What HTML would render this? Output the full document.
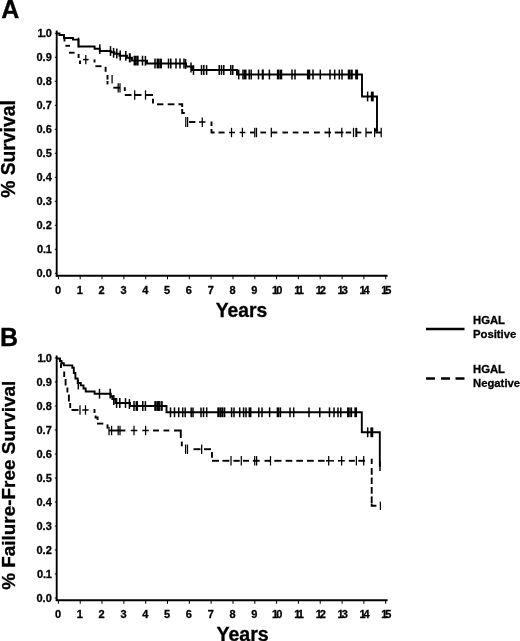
<!DOCTYPE html>
<html lang="en"><head><meta charset="utf-8"><title>HGAL survival curves</title>
<style>
html,body{margin:0;padding:0;background:#fff}
svg{display:block}
path{stroke:#000;fill:none}
text{stroke:#000;stroke-width:0.3px;font-family:"Liberation Sans",Arial,Helvetica,sans-serif;font-weight:bold;fill:#000}
.tl{font-size:11px}
.t2{letter-spacing:-2px}
.big{font-size:19.2px}
.pl{font-size:25px}
.lg{font-size:11.3px}
</style></head><body>
<svg width="520" height="641" viewBox="0 0 520 641">
<rect width="520" height="641" fill="#fff"/>
<g>
</g>
<g>
<path d="M56.7 30.5V276.5" stroke-width="1.9"/>
<path d="M55.8 275.7H387.6" stroke-width="2"/>
<path d="M54.8 273.3H56.6" stroke-width="1"/>
<text x="51.8" y="277.2" text-anchor="end" class="tl">0.0</text>
<path d="M54.8 249.3H56.6" stroke-width="1"/>
<text x="51.8" y="253.2" text-anchor="end" class="tl">0.<tspan dx="-0.5">1</tspan></text>
<path d="M54.8 225.3H56.6" stroke-width="1"/>
<text x="51.8" y="229.2" text-anchor="end" class="tl">0.2</text>
<path d="M54.8 201.3H56.6" stroke-width="1"/>
<text x="51.8" y="205.2" text-anchor="end" class="tl">0.3</text>
<path d="M54.8 177.3H56.6" stroke-width="1"/>
<text x="51.8" y="181.2" text-anchor="end" class="tl">0.4</text>
<path d="M54.8 153.3H56.6" stroke-width="1"/>
<text x="51.8" y="157.2" text-anchor="end" class="tl">0.5</text>
<path d="M54.8 129.3H56.6" stroke-width="1"/>
<text x="51.8" y="133.2" text-anchor="end" class="tl">0.6</text>
<path d="M54.8 105.3H56.6" stroke-width="1"/>
<text x="51.8" y="109.2" text-anchor="end" class="tl">0.7</text>
<path d="M54.8 81.3H56.6" stroke-width="1"/>
<text x="51.8" y="85.2" text-anchor="end" class="tl">0.8</text>
<path d="M54.8 57.3H56.6" stroke-width="1"/>
<text x="51.8" y="61.2" text-anchor="end" class="tl">0.9</text>
<path d="M54.8 33.3H56.6" stroke-width="1"/>
<text x="51.8" y="37.2" text-anchor="end" class="tl">1<tspan dx="-0.6">.</tspan><tspan dx="-0.4">0</tspan></text>
<path d="M58.4 275.5V279.3" stroke-width="1"/>
<text x="58.0" y="293.9" text-anchor="middle" class="tl">0</text>
<path d="M80.2 275.5V279.3" stroke-width="1"/>
<text x="79.8" y="293.9" text-anchor="middle" class="tl">1</text>
<path d="M102.0 275.5V279.3" stroke-width="1"/>
<text x="101.6" y="293.9" text-anchor="middle" class="tl">2</text>
<path d="M123.9 275.5V279.3" stroke-width="1"/>
<text x="123.5" y="293.9" text-anchor="middle" class="tl">3</text>
<path d="M145.7 275.5V279.3" stroke-width="1"/>
<text x="145.3" y="293.9" text-anchor="middle" class="tl">4</text>
<path d="M167.5 275.5V279.3" stroke-width="1"/>
<text x="167.1" y="293.9" text-anchor="middle" class="tl">5</text>
<path d="M189.3 275.5V279.3" stroke-width="1"/>
<text x="188.9" y="293.9" text-anchor="middle" class="tl">6</text>
<path d="M211.1 275.5V279.3" stroke-width="1"/>
<text x="210.7" y="293.9" text-anchor="middle" class="tl">7</text>
<path d="M233.0 275.5V279.3" stroke-width="1"/>
<text x="232.6" y="293.9" text-anchor="middle" class="tl">8</text>
<path d="M254.8 275.5V279.3" stroke-width="1"/>
<text x="254.4" y="293.9" text-anchor="middle" class="tl">9</text>
<path d="M276.6 275.5V279.3" stroke-width="1"/>
<text x="276.2" y="293.9" text-anchor="middle" class="tl t2">10</text>
<path d="M298.4 275.5V279.3" stroke-width="1"/>
<text x="298.0" y="293.9" text-anchor="middle" class="tl t2">11</text>
<path d="M320.2 275.5V279.3" stroke-width="1"/>
<text x="319.8" y="293.9" text-anchor="middle" class="tl t2">12</text>
<path d="M342.1 275.5V279.3" stroke-width="1"/>
<text x="341.7" y="293.9" text-anchor="middle" class="tl t2">13</text>
<path d="M363.9 275.5V279.3" stroke-width="1"/>
<text x="363.5" y="293.9" text-anchor="middle" class="tl t2">14</text>
<path d="M385.7 275.5V279.3" stroke-width="1"/>
<text x="385.3" y="293.9" text-anchor="middle" class="tl t2">15</text>
<text x="241.5" y="316.8" text-anchor="middle" class="big" style="font-size:19.3px">Years</text>
<text transform="translate(14.6 149) rotate(-90)" text-anchor="middle" class="big" style="font-size:19.3px">% Survival</text>
<text x="1.2" y="18.3" class="pl">A</text>
<path d="M56.7 355.5V601" stroke-width="1.9"/>
<path d="M55.8 600.2H387.6" stroke-width="2"/>
<path d="M54.8 598.0H56.6" stroke-width="1"/>
<text x="51.8" y="601.9" text-anchor="end" class="tl">0.0</text>
<path d="M54.8 574.0H56.6" stroke-width="1"/>
<text x="51.8" y="577.9" text-anchor="end" class="tl">0.<tspan dx="-0.5">1</tspan></text>
<path d="M54.8 550.0H56.6" stroke-width="1"/>
<text x="51.8" y="553.9" text-anchor="end" class="tl">0.2</text>
<path d="M54.8 526.0H56.6" stroke-width="1"/>
<text x="51.8" y="529.9" text-anchor="end" class="tl">0.3</text>
<path d="M54.8 502.0H56.6" stroke-width="1"/>
<text x="51.8" y="505.9" text-anchor="end" class="tl">0.4</text>
<path d="M54.8 478.0H56.6" stroke-width="1"/>
<text x="51.8" y="481.9" text-anchor="end" class="tl">0.5</text>
<path d="M54.8 454.0H56.6" stroke-width="1"/>
<text x="51.8" y="457.9" text-anchor="end" class="tl">0.6</text>
<path d="M54.8 430.0H56.6" stroke-width="1"/>
<text x="51.8" y="433.9" text-anchor="end" class="tl">0.7</text>
<path d="M54.8 406.0H56.6" stroke-width="1"/>
<text x="51.8" y="409.9" text-anchor="end" class="tl">0.8</text>
<path d="M54.8 382.0H56.6" stroke-width="1"/>
<text x="51.8" y="385.9" text-anchor="end" class="tl">0.9</text>
<path d="M54.8 358.0H56.6" stroke-width="1"/>
<text x="51.8" y="361.9" text-anchor="end" class="tl">1<tspan dx="-0.6">.</tspan><tspan dx="-0.4">0</tspan></text>
<path d="M58.4 600V603.8" stroke-width="1"/>
<text x="58.0" y="618.4" text-anchor="middle" class="tl">0</text>
<path d="M80.2 600V603.8" stroke-width="1"/>
<text x="79.8" y="618.4" text-anchor="middle" class="tl">1</text>
<path d="M102.0 600V603.8" stroke-width="1"/>
<text x="101.6" y="618.4" text-anchor="middle" class="tl">2</text>
<path d="M123.9 600V603.8" stroke-width="1"/>
<text x="123.5" y="618.4" text-anchor="middle" class="tl">3</text>
<path d="M145.7 600V603.8" stroke-width="1"/>
<text x="145.3" y="618.4" text-anchor="middle" class="tl">4</text>
<path d="M167.5 600V603.8" stroke-width="1"/>
<text x="167.1" y="618.4" text-anchor="middle" class="tl">5</text>
<path d="M189.3 600V603.8" stroke-width="1"/>
<text x="188.9" y="618.4" text-anchor="middle" class="tl">6</text>
<path d="M211.1 600V603.8" stroke-width="1"/>
<text x="210.7" y="618.4" text-anchor="middle" class="tl">7</text>
<path d="M233.0 600V603.8" stroke-width="1"/>
<text x="232.6" y="618.4" text-anchor="middle" class="tl">8</text>
<path d="M254.8 600V603.8" stroke-width="1"/>
<text x="254.4" y="618.4" text-anchor="middle" class="tl">9</text>
<path d="M276.6 600V603.8" stroke-width="1"/>
<text x="276.2" y="618.4" text-anchor="middle" class="tl t2">10</text>
<path d="M298.4 600V603.8" stroke-width="1"/>
<text x="298.0" y="618.4" text-anchor="middle" class="tl t2">11</text>
<path d="M320.2 600V603.8" stroke-width="1"/>
<text x="319.8" y="618.4" text-anchor="middle" class="tl t2">12</text>
<path d="M342.1 600V603.8" stroke-width="1"/>
<text x="341.7" y="618.4" text-anchor="middle" class="tl t2">13</text>
<path d="M363.9 600V603.8" stroke-width="1"/>
<text x="363.5" y="618.4" text-anchor="middle" class="tl t2">14</text>
<path d="M385.7 600V603.8" stroke-width="1"/>
<text x="385.3" y="618.4" text-anchor="middle" class="tl t2">15</text>
<text x="242.6" y="640.9" text-anchor="middle" class="big" style="font-size:19.6px">Years</text>
<text transform="translate(14.6 485.3) rotate(-90)" text-anchor="middle" class="big" style="font-size:18.9px">% Failure-Free Survival</text>
<text x="0" y="346.2" class="pl">B</text>
<text x="473" y="324.1" class="lg">HGAL</text>
<text x="473" y="338.3" class="lg">Positive</text>
<text x="473" y="373.3" class="lg">HGAL</text>
<text x="473" y="387.1" class="lg">Negative</text>
</g>
<g>
<path d="M426 329H464.5" stroke-width="2.4"/>
<path d="M426 378.5H435M441 378.5H450M455.5 378.5H464.5" stroke-width="2.4"/>
<path d="M57.0 33.5H59.5V35.0H64.0V38.0H73.0V39.6H78.5V46.5H94.6V48.8H99.8V51.0H110.8V52.3H114.5V53.7H119.5V55.8H127.0V57.8H132.0V60.6H147.0V63.5H186.0V66.5H192.0V70.0H237.0V74.5H362.0V96.5H377.0V131.0" stroke-width="1.9" fill="none" stroke-linejoin="miter"/>
<path d="M78.5 37.6V47.4" stroke-width="1.5"/>
<path d="M99.8 44.3V54.1" stroke-width="1.5"/>
<path d="M110.5 46.1V55.9" stroke-width="1.5"/>
<path d="M113.6 47.9V57.7" stroke-width="1.5"/>
<path d="M116.8 48.6V58.4" stroke-width="1.5"/>
<path d="M120.2 50.6V60.4" stroke-width="1.5"/>
<path d="M125.8 50.9V60.7" stroke-width="1.5"/>
<path d="M142.5 55.7V65.5" stroke-width="1.5"/>
<path d="M145.4 55.9V65.7" stroke-width="1.5"/>
<path d="M155.0 58.6V68.4" stroke-width="1.5"/>
<path d="M168.5 58.6V68.4" stroke-width="1.5"/>
<path d="M170.8 58.6V68.4" stroke-width="1.5"/>
<path d="M176.0 58.6V68.4" stroke-width="1.5"/>
<path d="M180.0 58.6V68.4" stroke-width="1.5"/>
<path d="M184.0 58.6V68.4" stroke-width="1.5"/>
<path d="M185.6 59.1V68.9" stroke-width="1.5"/>
<path d="M191.0 62.6V72.4" stroke-width="1.5"/>
<path d="M193.5 65.1V74.9" stroke-width="1.5"/>
<path d="M201.5 65.1V74.9" stroke-width="1.5"/>
<path d="M203.8 65.1V74.9" stroke-width="1.5"/>
<path d="M206.6 65.1V74.9" stroke-width="1.5"/>
<path d="M219.2 65.1V74.9" stroke-width="1.5"/>
<path d="M221.5 65.1V74.9" stroke-width="1.5"/>
<path d="M223.8 65.1V74.9" stroke-width="1.5"/>
<path d="M230.8 65.1V74.9" stroke-width="1.5"/>
<path d="M232.8 65.1V74.9" stroke-width="1.5"/>
<path d="M238.7 69.6V79.4" stroke-width="1.5"/>
<path d="M243.0 69.6V79.4" stroke-width="1.5"/>
<path d="M249.2 69.6V79.4" stroke-width="1.5"/>
<path d="M251.2 69.6V79.4" stroke-width="1.5"/>
<path d="M258.5 69.6V79.4" stroke-width="1.5"/>
<path d="M262.5 69.6V79.4" stroke-width="1.5"/>
<path d="M269.4 69.6V79.4" stroke-width="1.5"/>
<path d="M292.0 69.6V79.4" stroke-width="1.5"/>
<path d="M295.0 69.6V79.4" stroke-width="1.5"/>
<path d="M313.0 69.6V79.4" stroke-width="1.5"/>
<path d="M320.3 69.6V79.4" stroke-width="1.5"/>
<path d="M330.0 69.6V79.4" stroke-width="1.5"/>
<path d="M334.7 69.6V79.4" stroke-width="1.5"/>
<path d="M339.3 69.6V79.4" stroke-width="1.5"/>
<path d="M342.0 69.6V79.4" stroke-width="1.5"/>
<path d="M367.6 91.6V101.4" stroke-width="1.5"/>
<path d="M129.8 53.2V62.4" stroke-width="2"/>
<path d="M134.8 55.7V65.5" stroke-width="2.5"/>
<path d="M137.4 55.7V65.5" stroke-width="2.5"/>
<path d="M157.8 58.6V68.4" stroke-width="2.5"/>
<path d="M160.6 58.6V68.4" stroke-width="2.6999999999999997"/>
<path d="M245.2 69.6V79.4" stroke-width="2.6999999999999997"/>
<path d="M278.2 69.6V79.4" stroke-width="2.6999999999999997"/>
<path d="M281.0 69.6V79.4" stroke-width="2.5"/>
<path d="M308.6 69.6V79.4" stroke-width="3.3"/>
<path d="M349.0 69.6V79.4" stroke-width="2.5"/>
<path d="M351.6 69.6V79.4" stroke-width="2.3"/>
<path d="M356.6 69.6V79.4" stroke-width="2.9"/>
<path d="M372.3 91.6V101.4" stroke-width="2.9"/>
<path d="M263.0 69.6V79.4" stroke-width="1.5"/>
<path d="M374.5 128.5H377.8V131.8H374.5Z" style="fill:#000;stroke:none"/>
<path d="M64.5 38.0V41.5" stroke-width="1.9"/>
<path d="M65.4 45.8H70.0" stroke-width="1.9"/>
<path d="M69.0 52.7H74.6" stroke-width="1.9"/>
<path d="M78.6 54.0V58.0" stroke-width="1.9"/>
<path d="M80.0 60.4V64.0" stroke-width="1.9"/>
<path d="M83.0 59.6H88.6" stroke-width="1.5"/>
<path d="M85.8 54.9V64.3" stroke-width="1.25"/>
<path d="M94.5 59.4V62.5" stroke-width="1.9"/>
<path d="M95.4 66.2H101.5" stroke-width="1.9"/>
<path d="M105.6 66.8V71.8" stroke-width="1.9"/>
<path d="M107.5 75.0V79.6" stroke-width="1.9"/>
<path d="M107.5 81.0V84.4" stroke-width="1.9"/>
<path d="M112.1 75.1V83.5" stroke-width="1.25"/>
<path d="M113.3 87.7H120.0" stroke-width="1.9"/>
<path d="M118.2 83.2V92.6" stroke-width="1.25"/>
<path d="M120.0 83.2V92.6" stroke-width="1.25"/>
<path d="M124.8 87.2V91.0" stroke-width="1.9"/>
<path d="M124.8 95.0H131.5" stroke-width="1.9"/>
<path d="M134.7 90.3V99.7" stroke-width="1.25"/>
<path d="M134.7 95.0H141.5" stroke-width="1.9"/>
<path d="M145.5 90.3V99.7" stroke-width="1.25"/>
<path d="M145.5 95.0H153.0" stroke-width="1.9"/>
<path d="M153.0 98.8V103.6" stroke-width="1.9"/>
<path d="M157.0 104.3H163.4" stroke-width="1.9"/>
<path d="M167.7 104.3H174.4" stroke-width="1.9"/>
<path d="M178.5 104.3H182.2V107" stroke-width="1.9"/>
<path d="M182.2 109V113H184.8" stroke-width="1.9"/>
<path d="M185.8 117.0V127.0" stroke-width="1.25"/>
<path d="M187.6 117.0V127.0" stroke-width="1.25"/>
<path d="M189.0 122.0H195.4" stroke-width="1.9"/>
<path d="M199.0 122.0H205.5" stroke-width="1.5"/>
<path d="M202.3 117.6V127.0" stroke-width="1.25"/>
<path d="M211.5 121.5V126.0" stroke-width="1.9"/>
<path d="M211.5 129V132.5H214.6" stroke-width="1.9"/>
<path d="M218.5 132.5H224.6" stroke-width="1.9"/>
<path d="M229.0 132.5H235.0" stroke-width="1.5"/>
<path d="M239.6 132.5H245.4" stroke-width="1.5"/>
<path d="M250.0 132.5H254.6" stroke-width="1.9"/>
<path d="M260.4 132.5H266.0" stroke-width="1.9"/>
<path d="M271.3 132.5H277.3" stroke-width="1.9"/>
<path d="M282.4 132.5H288.0" stroke-width="1.9"/>
<path d="M292.7 132.5H298.5" stroke-width="1.9"/>
<path d="M303.0 132.5H309.0" stroke-width="1.9"/>
<path d="M314.0 132.5H319.8" stroke-width="1.9"/>
<path d="M324.4 132.5H331.0" stroke-width="1.9"/>
<path d="M334.8 132.5H343.4" stroke-width="1.9"/>
<path d="M345.7 132.5H351.2" stroke-width="1.9"/>
<path d="M356.7 132.5H361.3" stroke-width="1.9"/>
<path d="M366.0 132.5H372.0" stroke-width="1.9"/>
<path d="M375.4 132.5H381.6" stroke-width="1.9"/>
<path d="M231.5 127.8V137.2" stroke-width="1.25"/>
<path d="M242.4 127.8V137.2" stroke-width="1.25"/>
<path d="M254.8 127.8V137.2" stroke-width="1.25"/>
<path d="M256.5 127.8V137.2" stroke-width="1.25"/>
<path d="M271.3 127.8V137.2" stroke-width="1.25"/>
<path d="M329.3 127.8V137.2" stroke-width="1.25"/>
<path d="M341.8 127.8V137.2" stroke-width="1.25"/>
<path d="M353.5 127.8V137.2" stroke-width="1.25"/>
<path d="M366.0 127.8V137.2" stroke-width="1.25"/>
<path d="M374.6 127.8V137.2" stroke-width="1.25"/>
<path d="M381.2 127.8V137.2" stroke-width="1.25"/>
<path d="M356.3 127.9V137.1" stroke-width="2"/>
<path d="M57.0 358.5H60.0V361.0H61.5V363.3H63.8V365.4H72.3V367.7H73.8V373.0H75.4V378.5H77.7V383.0H80.8V385.4H83.5V388.5H85.7V391.5H94.6V393.7H110.8V396.3H112.3V399.0H115.4V403.0H130.0V406.0H166.5V412.3H361.8V432.3H379.8V466.7" stroke-width="1.9" fill="none" stroke-linejoin="miter"/>
<path d="M78.3 379.6V389.4" stroke-width="1.5"/>
<path d="M99.5 388.8V398.6" stroke-width="1.5"/>
<path d="M110.2 388.8V398.6" stroke-width="1.5"/>
<path d="M113.8 395.1V404.9" stroke-width="1.5"/>
<path d="M116.6 398.1V407.9" stroke-width="1.5"/>
<path d="M119.8 398.1V407.9" stroke-width="1.5"/>
<path d="M125.5 398.1V407.9" stroke-width="1.5"/>
<path d="M129.4 399.1V408.9" stroke-width="1.5"/>
<path d="M134.0 401.1V410.9" stroke-width="1.5"/>
<path d="M142.8 401.1V410.9" stroke-width="1.5"/>
<path d="M145.4 401.1V410.9" stroke-width="1.5"/>
<path d="M170.5 407.4V417.2" stroke-width="1.5"/>
<path d="M174.5 407.4V417.2" stroke-width="1.5"/>
<path d="M178.7 407.4V417.2" stroke-width="1.5"/>
<path d="M182.7 407.4V417.2" stroke-width="1.5"/>
<path d="M185.2 407.4V417.2" stroke-width="1.5"/>
<path d="M191.2 407.4V417.2" stroke-width="1.5"/>
<path d="M193.0 407.4V417.2" stroke-width="1.5"/>
<path d="M201.0 407.4V417.2" stroke-width="1.5"/>
<path d="M203.5 407.4V417.2" stroke-width="1.5"/>
<path d="M206.7 407.4V417.2" stroke-width="1.5"/>
<path d="M231.6 407.4V417.2" stroke-width="1.5"/>
<path d="M234.0 407.4V417.2" stroke-width="1.5"/>
<path d="M239.7 407.4V417.2" stroke-width="1.5"/>
<path d="M243.6 407.4V417.2" stroke-width="1.5"/>
<path d="M246.0 407.4V417.2" stroke-width="1.5"/>
<path d="M258.8 407.4V417.2" stroke-width="1.5"/>
<path d="M262.0 407.4V417.2" stroke-width="1.5"/>
<path d="M269.6 407.4V417.2" stroke-width="1.5"/>
<path d="M280.4 407.4V417.2" stroke-width="1.5"/>
<path d="M290.0 407.4V417.2" stroke-width="1.5"/>
<path d="M293.7 407.4V417.2" stroke-width="1.5"/>
<path d="M309.0 407.4V417.2" stroke-width="1.5"/>
<path d="M319.8 407.4V417.2" stroke-width="1.5"/>
<path d="M329.5 407.4V417.2" stroke-width="1.5"/>
<path d="M334.0 407.4V417.2" stroke-width="1.5"/>
<path d="M338.0 407.4V417.2" stroke-width="1.5"/>
<path d="M340.8 407.4V417.2" stroke-width="1.5"/>
<path d="M367.7 427.4V437.2" stroke-width="1.5"/>
<path d="M380.0 461.1V470.9" stroke-width="1.5"/>
<path d="M136.8 401.1V410.9" stroke-width="2.5"/>
<path d="M155.2 401.1V410.9" stroke-width="1.9000000000000001"/>
<path d="M157.2 401.1V410.9" stroke-width="1.9000000000000001"/>
<path d="M159.0 401.1V410.9" stroke-width="1.9000000000000001"/>
<path d="M161.6 401.1V410.9" stroke-width="2.3"/>
<path d="M218.2 407.4V417.2" stroke-width="1.9000000000000001"/>
<path d="M220.2 407.4V417.2" stroke-width="1.9000000000000001"/>
<path d="M222.2 407.4V417.2" stroke-width="1.9000000000000001"/>
<path d="M224.4 407.4V417.2" stroke-width="1.9000000000000001"/>
<path d="M250.0 407.4V417.2" stroke-width="2.9"/>
<path d="M278.0 407.4V417.2" stroke-width="2.6999999999999997"/>
<path d="M348.4 407.4V417.2" stroke-width="2.6999999999999997"/>
<path d="M351.2 407.4V417.2" stroke-width="1.9000000000000001"/>
<path d="M355.7 407.4V417.2" stroke-width="2.6999999999999997"/>
<path d="M371.8 427.4V437.2" stroke-width="2.9"/>
<path d="M61 363.5V368" stroke-width="1.9"/>
<path d="M64.2 371.5V377.0" stroke-width="1.9"/>
<path d="M65.6 379.0V385.5" stroke-width="1.9"/>
<path d="M67.4 387.5V392.5" stroke-width="1.9"/>
<path d="M68.9 394.6V401.5" stroke-width="1.9"/>
<path d="M70.2 403.0V408.0" stroke-width="1.9"/>
<path d="M71.5 410.0H78.5" stroke-width="1.9"/>
<path d="M80.0 405.3V414.7" stroke-width="1.25"/>
<path d="M82.3 410.0H88.6" stroke-width="1.5"/>
<path d="M85.5 405.3V414.7" stroke-width="1.25"/>
<path d="M94.5 409.0V413.0" stroke-width="1.9"/>
<path d="M95.6 415.5V417.5H97.6V420" stroke-width="1.9"/>
<path d="M97.0 423.6H103.3" stroke-width="1.9"/>
<path d="M107.5 424.4V428.6" stroke-width="1.9"/>
<path d="M109.0 426.8V435.2" stroke-width="1.25"/>
<path d="M111.6 425.8V435.2" stroke-width="1.25"/>
<path d="M109.0 430.5H125.4" stroke-width="1.9"/>
<path d="M118.2 425.8V435.2" stroke-width="1.25"/>
<path d="M120.0 425.8V435.2" stroke-width="1.25"/>
<path d="M130.8 430.5H137.3" stroke-width="1.5"/>
<path d="M134.0 425.8V435.2" stroke-width="1.25"/>
<path d="M142.3 430.5H148.8" stroke-width="1.5"/>
<path d="M145.6 425.8V435.2" stroke-width="1.25"/>
<path d="M153.0 430.5H159.0" stroke-width="1.9"/>
<path d="M163.5 430.5H169.3" stroke-width="1.9"/>
<path d="M174 430.5H180.8V438" stroke-width="1.9"/>
<path d="M181.8 441.6V446.3" stroke-width="1.9"/>
<path d="M185.6 444.5V453.9" stroke-width="1.25"/>
<path d="M187.5 444.5V453.9" stroke-width="1.25"/>
<path d="M193.5 449.2H200.5" stroke-width="1.9"/>
<path d="M201.7 444.5V453.9" stroke-width="1.25"/>
<path d="M204.0 449.2H211.0" stroke-width="1.9"/>
<path d="M212.0 452.0V457.7" stroke-width="1.9"/>
<path d="M212.0 460.8H219.0" stroke-width="1.9"/>
<path d="M222.4 460.8H229.3" stroke-width="1.9"/>
<path d="M233.4 460.8H239.7" stroke-width="1.9"/>
<path d="M243.0 460.8H249.0" stroke-width="1.9"/>
<path d="M252.8 460.8H259.7" stroke-width="1.9"/>
<path d="M264.5 460.8H270.0" stroke-width="1.9"/>
<path d="M274.3 460.8H281.5" stroke-width="1.9"/>
<path d="M285.6 460.8H292.3" stroke-width="1.9"/>
<path d="M296.3 460.8H303.0" stroke-width="1.9"/>
<path d="M307.0 460.8H313.8" stroke-width="1.9"/>
<path d="M318.0 460.8H324.6" stroke-width="1.9"/>
<path d="M326.0 460.8H334.0" stroke-width="1.5"/>
<path d="M338.0 460.8H344.8" stroke-width="1.5"/>
<path d="M348.8 460.8H354.8" stroke-width="1.9"/>
<path d="M358.3 460.8H365.0" stroke-width="1.9"/>
<path d="M231.0 456.1V465.5" stroke-width="1.25"/>
<path d="M241.3 456.1V465.5" stroke-width="1.25"/>
<path d="M254.7 456.1V465.5" stroke-width="1.25"/>
<path d="M256.6 456.1V465.5" stroke-width="1.25"/>
<path d="M270.5 456.1V465.5" stroke-width="1.25"/>
<path d="M328.7 456.1V465.5" stroke-width="1.25"/>
<path d="M341.6 456.1V465.5" stroke-width="1.25"/>
<path d="M356.4 456.1V465.5" stroke-width="1.25"/>
<path d="M363.7 456.1V465.5" stroke-width="1.25"/>
<path d="M371.7 458.7V464.0" stroke-width="1.9"/>
<path d="M371.7 468.0V474.8" stroke-width="1.9"/>
<path d="M371.7 477.5V484.0" stroke-width="1.9"/>
<path d="M371.7 487.0V493.7" stroke-width="1.9"/>
<path d="M371.7 496.4V503.0" stroke-width="1.9"/>
<path d="M371.7 503.5V505.8H376.4" stroke-width="1.9"/>
<path d="M380.4 501.6V510.0" stroke-width="1.25"/>
</g>
</svg>
</body></html>
